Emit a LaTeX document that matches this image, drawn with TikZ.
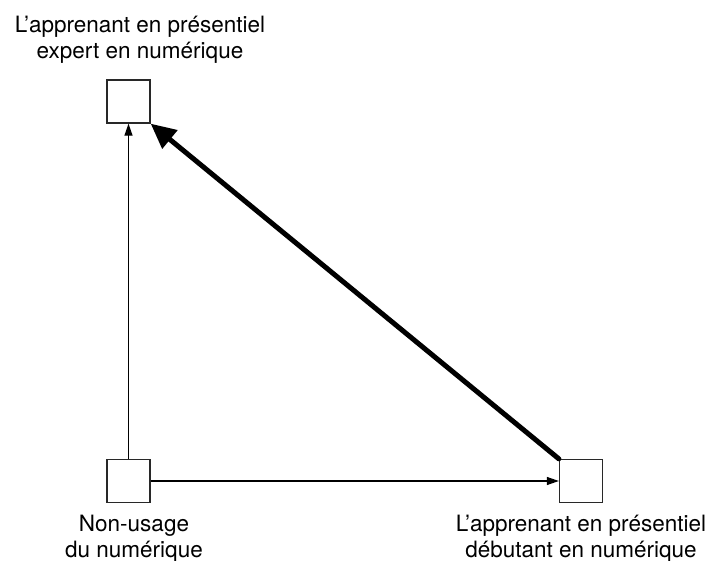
\documentclass[tikz,border=0pt]{standalone}
\usepackage{fontspec}
\setmainfont{TeX Gyre Heros}
\usepackage{tikz}
\usetikzlibrary{positioning,arrows.meta}
\definecolor{boxgray}{RGB}{40,40,40}

\tikzset{
  statebox/.style={draw=boxgray, line width=1.3pt, minimum size=43pt, inner sep=0pt},
  caption/.style={align=center, inner sep=0pt, font=\fontsize{22.5}{26}\selectfont},
  thinarrow/.style={line width=1.2pt, -{Triangle[length=12pt,width=8pt]}},
  thickarrow/.style={line width=5pt, line cap=round, -{Triangle[length=25pt,width=23pt]}}
}

\begin{document}
\begin{tikzpicture}[x=1pt,y=-1pt]
\useasboundingbox (0,0) rectangle (709,561);
% the three states
\node[statebox] (expert) at (128.5,101.5) {};
\node[statebox] (nonusage) at (128.5,481) {};
\node[statebox] (debutant) at (581,481) {};
% labels
\node[caption, anchor=north] (expertlabel) at (140,15.5) {L’apprenant en présentiel\\expert en numérique};
\node[caption, anchor=north] (nonusagelabel) at (134,514.5) {Non-usage\\du numérique};
\node[caption, anchor=north] (debutantlabel) at (581,514.5) {L’apprenant en présentiel\\débutant en numérique};
% transitions
\draw[thinarrow] (nonusage.north) -- (expert.south);
\draw[thinarrow] (nonusage.east) -- (debutant.west);
\draw[thickarrow] (debutant.north west) -- (expert.south east);
\end{tikzpicture}
\end{document}
